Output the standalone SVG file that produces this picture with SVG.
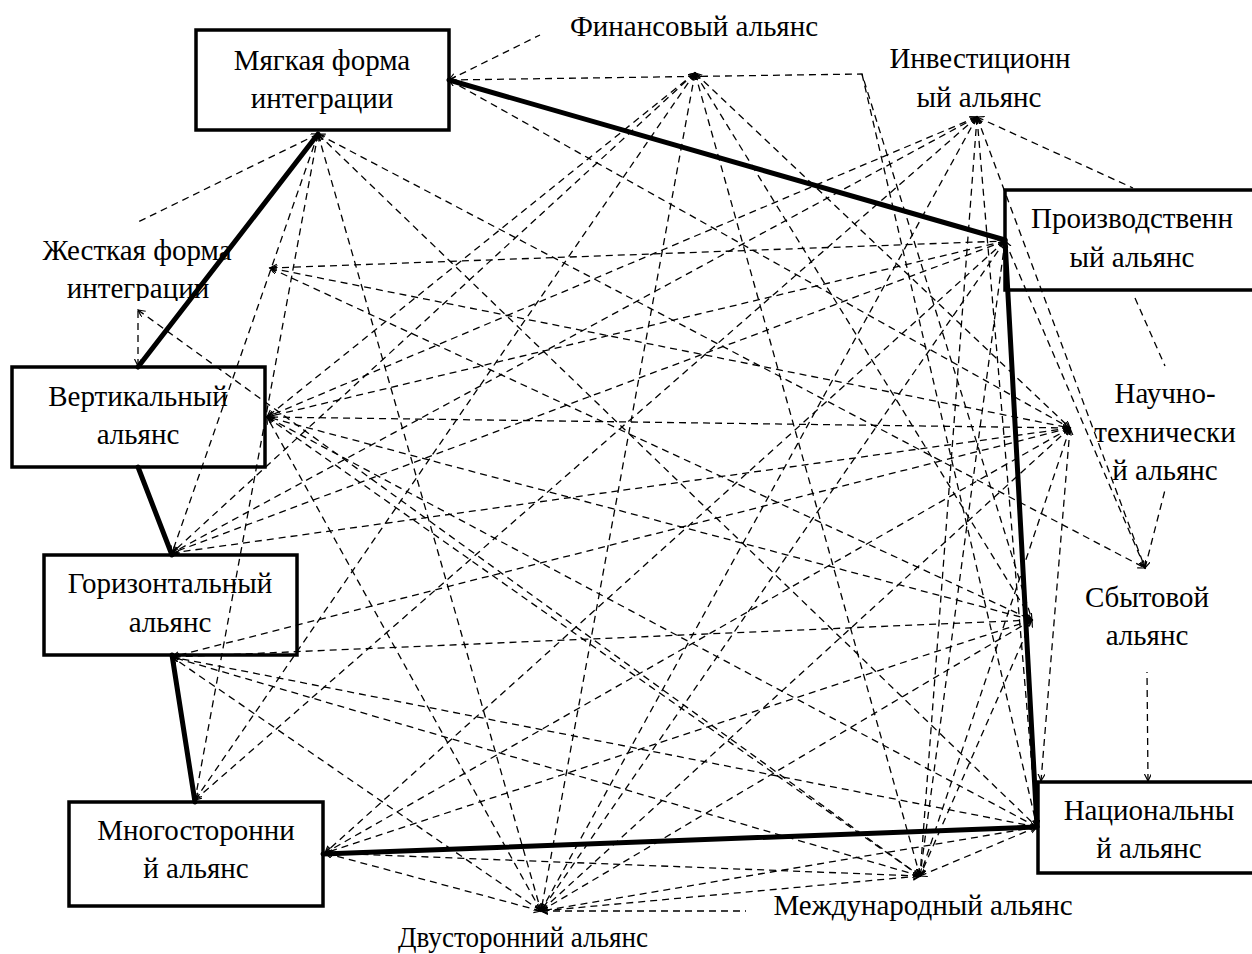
<svg xmlns="http://www.w3.org/2000/svg" width="1252" height="954" viewBox="0 0 1252 954">
<style>
text{font-family:"Liberation Serif","Times New Roman","DejaVu Serif",serif;font-size:29px;fill:#000;text-anchor:middle}
.box{fill:#fff;stroke:#000;stroke-width:3.5}
.d{stroke:#000;stroke-width:1.3;stroke-dasharray:7 5;fill:none}
.b{marker-start:url(#a);marker-end:url(#a)}
.s{marker-start:url(#a)}
.t{stroke:#000;stroke-width:5;fill:none;stroke-linecap:round}
</style>
<defs>
<marker id="a" markerUnits="userSpaceOnUse" markerWidth="10" markerHeight="10" refX="7" refY="3.5" orient="auto-start-reverse"><path d="M0,0 L7,3.5 L0,7" fill="none" stroke="#000" stroke-width="1.2"/></marker>
<clipPath id="jc"><rect x="0" y="200" width="300" height="101"/></clipPath>
</defs>
<g id="n-myagkaya"><rect class="box" x="196" y="30" width="253" height="100"/><text x="322" y="70">Мягкая форма</text><text x="322" y="108">интеграции</text></g>
<g id="n-proizv"><rect class="box" x="1005" y="190" width="250" height="100"/><text x="1132" y="228">Производственн</text><text x="1132" y="267">ый альянс</text></g>
<g id="n-vert"><rect class="box" x="12" y="367" width="253" height="100"/><text x="138" y="406">Вертикальный</text><text x="138" y="444">альянс</text></g>
<g id="n-gor"><rect class="box" x="44" y="555" width="253" height="100"/><text x="170" y="593">Горизонтальный</text><text x="170" y="632">альянс</text></g>
<g id="n-mnog"><rect class="box" x="69" y="802" width="254" height="104"/><text x="196" y="840">Многосторонни</text><text x="196" y="878">й альянс</text></g>
<g id="n-nac"><rect class="box" x="1038" y="782" width="220" height="91"/><text x="1149" y="820">Национальны</text><text x="1149" y="858">й альянс</text></g>
<g id="n-zhest" clip-path="url(#jc)"><text x="137" y="260">Жесткая форма</text><text x="138" y="298">интеграции</text></g>
<g id="n-fin"><text x="694" y="36">Финансовый альянс</text></g>
<g id="n-invest"><text x="980" y="68">Инвестиционн</text><text x="979" y="107">ый альянс</text></g>
<g id="n-nauch"><text x="1165" y="403">Научно-</text><text x="1165" y="442">технически</text><text x="1165" y="480">й альянс</text></g>
<g id="n-sbyt"><text x="1147" y="607">Сбытовой</text><text x="1147" y="645">альянс</text></g>
<g id="n-mezhd"><text x="923" y="915">Международный альянс</text></g>
<g id="n-dvus"><text x="523" y="947" textLength="250" lengthAdjust="spacingAndGlyphs">Двусторонний альянс</text></g>
<g id="connectors">
<g id="labels-links">
<line class="d s" x1="449" y1="80" x2="540" y2="35"/>
<line class="d s" x1="977" y1="117" x2="1133" y2="188"/>
<line class="d" x1="1135" y1="298" x2="1165" y2="366"/>
<line class="d s" x1="1145" y1="568" x2="1165" y2="490"/>
<line class="d s" x1="1148" y1="781" x2="1147" y2="672"/>
<line class="d s" x1="541" y1="911" x2="746" y2="911"/>
<line class="d s" x1="138" y1="366" x2="138" y2="310"/>
<line class="d s" x1="318" y1="134" x2="138" y2="222"/>
<polyline class="d s" points="449,80 862,74 1032,620"/>
<line class="d" x1="862" y1="74" x2="1037" y2="827"/>
</g>
<g id="dashed">
<line class="d b" x1="138" y1="310" x2="920" y2="876"/>
<line class="d b" x1="318" y1="134" x2="172" y2="553"/>
<line class="d b" x1="318" y1="134" x2="541" y2="911"/>
<line class="d b" x1="318" y1="134" x2="1037" y2="827"/>
<line class="d b" x1="318" y1="134" x2="1145" y2="568"/>
<line class="d b" x1="318" y1="134" x2="195" y2="800"/>
<line class="d b" x1="449" y1="80" x2="1070" y2="428"/>
<line class="d b" x1="270" y1="268" x2="1005" y2="241"/>
<line class="d b" x1="270" y1="268" x2="1070" y2="428"/>
<line class="d b" x1="270" y1="268" x2="1032" y2="620"/>
<line class="d b" x1="695" y1="73" x2="267" y2="417"/>
<line class="d b" x1="695" y1="73" x2="172" y2="553"/>
<line class="d b" x1="695" y1="73" x2="195" y2="800"/>
<line class="d b" x1="695" y1="73" x2="541" y2="911"/>
<line class="d b" x1="695" y1="73" x2="920" y2="876"/>
<line class="d b" x1="695" y1="73" x2="1032" y2="620"/>
<line class="d b" x1="695" y1="73" x2="1070" y2="428"/>
<line class="d b" x1="977" y1="117" x2="267" y2="417"/>
<line class="d b" x1="977" y1="117" x2="172" y2="553"/>
<line class="d b" x1="977" y1="117" x2="195" y2="800"/>
<line class="d b" x1="977" y1="117" x2="541" y2="911"/>
<line class="d b" x1="977" y1="117" x2="920" y2="876"/>
<line class="d b" x1="977" y1="117" x2="1037" y2="827"/>
<line class="d b" x1="977" y1="117" x2="1145" y2="568"/>
<line class="d b" x1="1005" y1="241" x2="267" y2="417"/>
<line class="d b" x1="1005" y1="241" x2="172" y2="553"/>
<line class="d b" x1="1005" y1="241" x2="325" y2="853"/>
<line class="d b" x1="1005" y1="241" x2="541" y2="911"/>
<line class="d b" x1="1005" y1="241" x2="920" y2="876"/>
<line class="d b" x1="1005" y1="241" x2="1145" y2="568"/>
<line class="d b" x1="1070" y1="428" x2="267" y2="417"/>
<line class="d b" x1="1070" y1="428" x2="172" y2="553"/>
<line class="d b" x1="1070" y1="428" x2="172" y2="657"/>
<line class="d b" x1="1070" y1="428" x2="325" y2="853"/>
<line class="d b" x1="1070" y1="428" x2="541" y2="911"/>
<line class="d b" x1="1070" y1="428" x2="920" y2="876"/>
<line class="d b" x1="1070" y1="428" x2="1041" y2="781"/>
<line class="d b" x1="1032" y1="620" x2="267" y2="417"/>
<line class="d b" x1="1032" y1="620" x2="172" y2="657"/>
<line class="d b" x1="1032" y1="620" x2="325" y2="853"/>
<line class="d b" x1="1032" y1="620" x2="541" y2="911"/>
<line class="d b" x1="1032" y1="620" x2="920" y2="876"/>
<line class="d b" x1="1037" y1="827" x2="267" y2="417"/>
<line class="d b" x1="1037" y1="827" x2="172" y2="657"/>
<line class="d b" x1="1037" y1="827" x2="541" y2="911"/>
<line class="d b" x1="1037" y1="827" x2="920" y2="876"/>
<line class="d b" x1="920" y1="876" x2="267" y2="417"/>
<line class="d b" x1="920" y1="876" x2="172" y2="657"/>
<line class="d b" x1="920" y1="876" x2="325" y2="853"/>
<line class="d b" x1="920" y1="876" x2="541" y2="911"/>
<line class="d b" x1="541" y1="911" x2="267" y2="417"/>
<line class="d b" x1="541" y1="911" x2="172" y2="657"/>
<line class="d b" x1="541" y1="911" x2="325" y2="853"/>
</g>
<g id="thick">
<line class="t" x1="449" y1="80" x2="1005" y2="240"/>
<line class="t" x1="318" y1="134" x2="138" y2="367"/>
<line class="t" x1="138" y1="467" x2="172" y2="555"/>
<line class="t" x1="172" y1="655" x2="195" y2="802"/>
<line class="t" x1="323" y1="854" x2="1037" y2="827"/>
<line class="t" x1="1005" y1="240" x2="1037" y2="827"/>
</g>
</g>
</svg>
